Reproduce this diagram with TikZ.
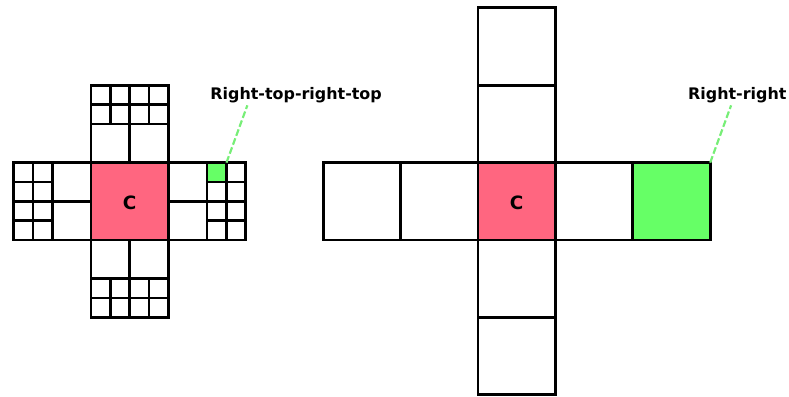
\documentclass[tikz,border=0pt]{standalone}
\usepackage{fontspec}
\setmainfont{DejaVu Sans}

\definecolor{cellred}{HTML}{FF6680}
\definecolor{cellgreen}{HTML}{66FF66}
\definecolor{leadgreen}{HTML}{77EE77}

\begin{document}
\begin{tikzpicture}[x=2cm, y=2cm,
    cellline/.style={black, line width=2pt},
    lead/.style={leadgreen, line width=1.6pt, dash pattern=on 5pt off 2pt},
    lbl/.style={font=\fontsize{11.7}{14}\selectfont\bfseries, inner sep=0pt},
    mid/.style={font=\fontsize{13.5}{16}\selectfont\bfseries}]
    \useasboundingbox (-1.176,-2.028) rectangle (9.018,3.101);
    % Left picture: the split neighbours.
        \fill[cellred] (0,0) rectangle (1,1);
        \fill[cellgreen] (1.5,0.75) rectangle (1.75,1);
        \draw[cellline] (0,0) rectangle (1,1);
        \draw[cellline] (0,1) rectangle (1,2) (0.5,1) -- (0.5,1.5)
            (0,1.5) -- (1,1.5) (0,1.75) -- (1,1.75);
        \draw[cellline] (0,-1) rectangle (1,0) (0.5,-0.5) -- (0.5,0)
            (0,-0.5) -- (1,-0.5) (0,-0.75) -- (1,-0.75);
        \draw[cellline] (-1,0) rectangle (0,1) (-0.5,0.5) -- (0,0.5)
            (-0.5,0) -- (-0.5,1) (-0.75,0) -- (-0.75,1);
        \draw[cellline] (1,0) rectangle (2,1) (1,0.5) -- (1.5,0.5)
            (1.5,0) -- (1.5,1) (1.75,0) -- (1.75,1);
        \foreach \s in {0.25,0.5,0.75} {
            \draw[cellline] (\s,1.5) -- (\s,2) (\s,-1) -- (\s,-0.5);
            \draw[cellline] (-1,\s) -- (-0.5,\s) (1.5,\s) -- (2,\s);
        }
        \node[mid] (cl) at (0.5,0.48) {C};
    % Right picture: a plain cross of cells.
        \fill[cellred] (5,0) rectangle (6,1);
        \fill[cellgreen] (7,0) rectangle (8,1);
        \draw[cellline] (3,0) rectangle (8,1) (5,-2) rectangle (6,3);
        \foreach \s in {4,5,6,7}
            \draw[cellline] (\s,0) -- (\s,1);
        \foreach \s in {-1,0,1,2}
            \draw[cellline] (5,\s) -- (6,\s);
        \node[mid] (cr) at (5.5,0.48) {C};
    % Below nodes are the labels.
        \node[lbl, anchor=base] (rtrt) at (2.65,1.809) {Right-top-right-top};
        \node[lbl, anchor=base] (rr) at (8.35,1.809) {Right-right};
        \coordinate (gl) at (1.75,1);
        \coordinate (gr) at (8,1);
        \coordinate (ltip) at (2.02,1.74);
        \coordinate (rtip) at (8.27,1.74);
        \draw[lead] (gl) -- (ltip);
        \draw[lead] (gr) -- (rtip);
\end{tikzpicture}
\end{document}
